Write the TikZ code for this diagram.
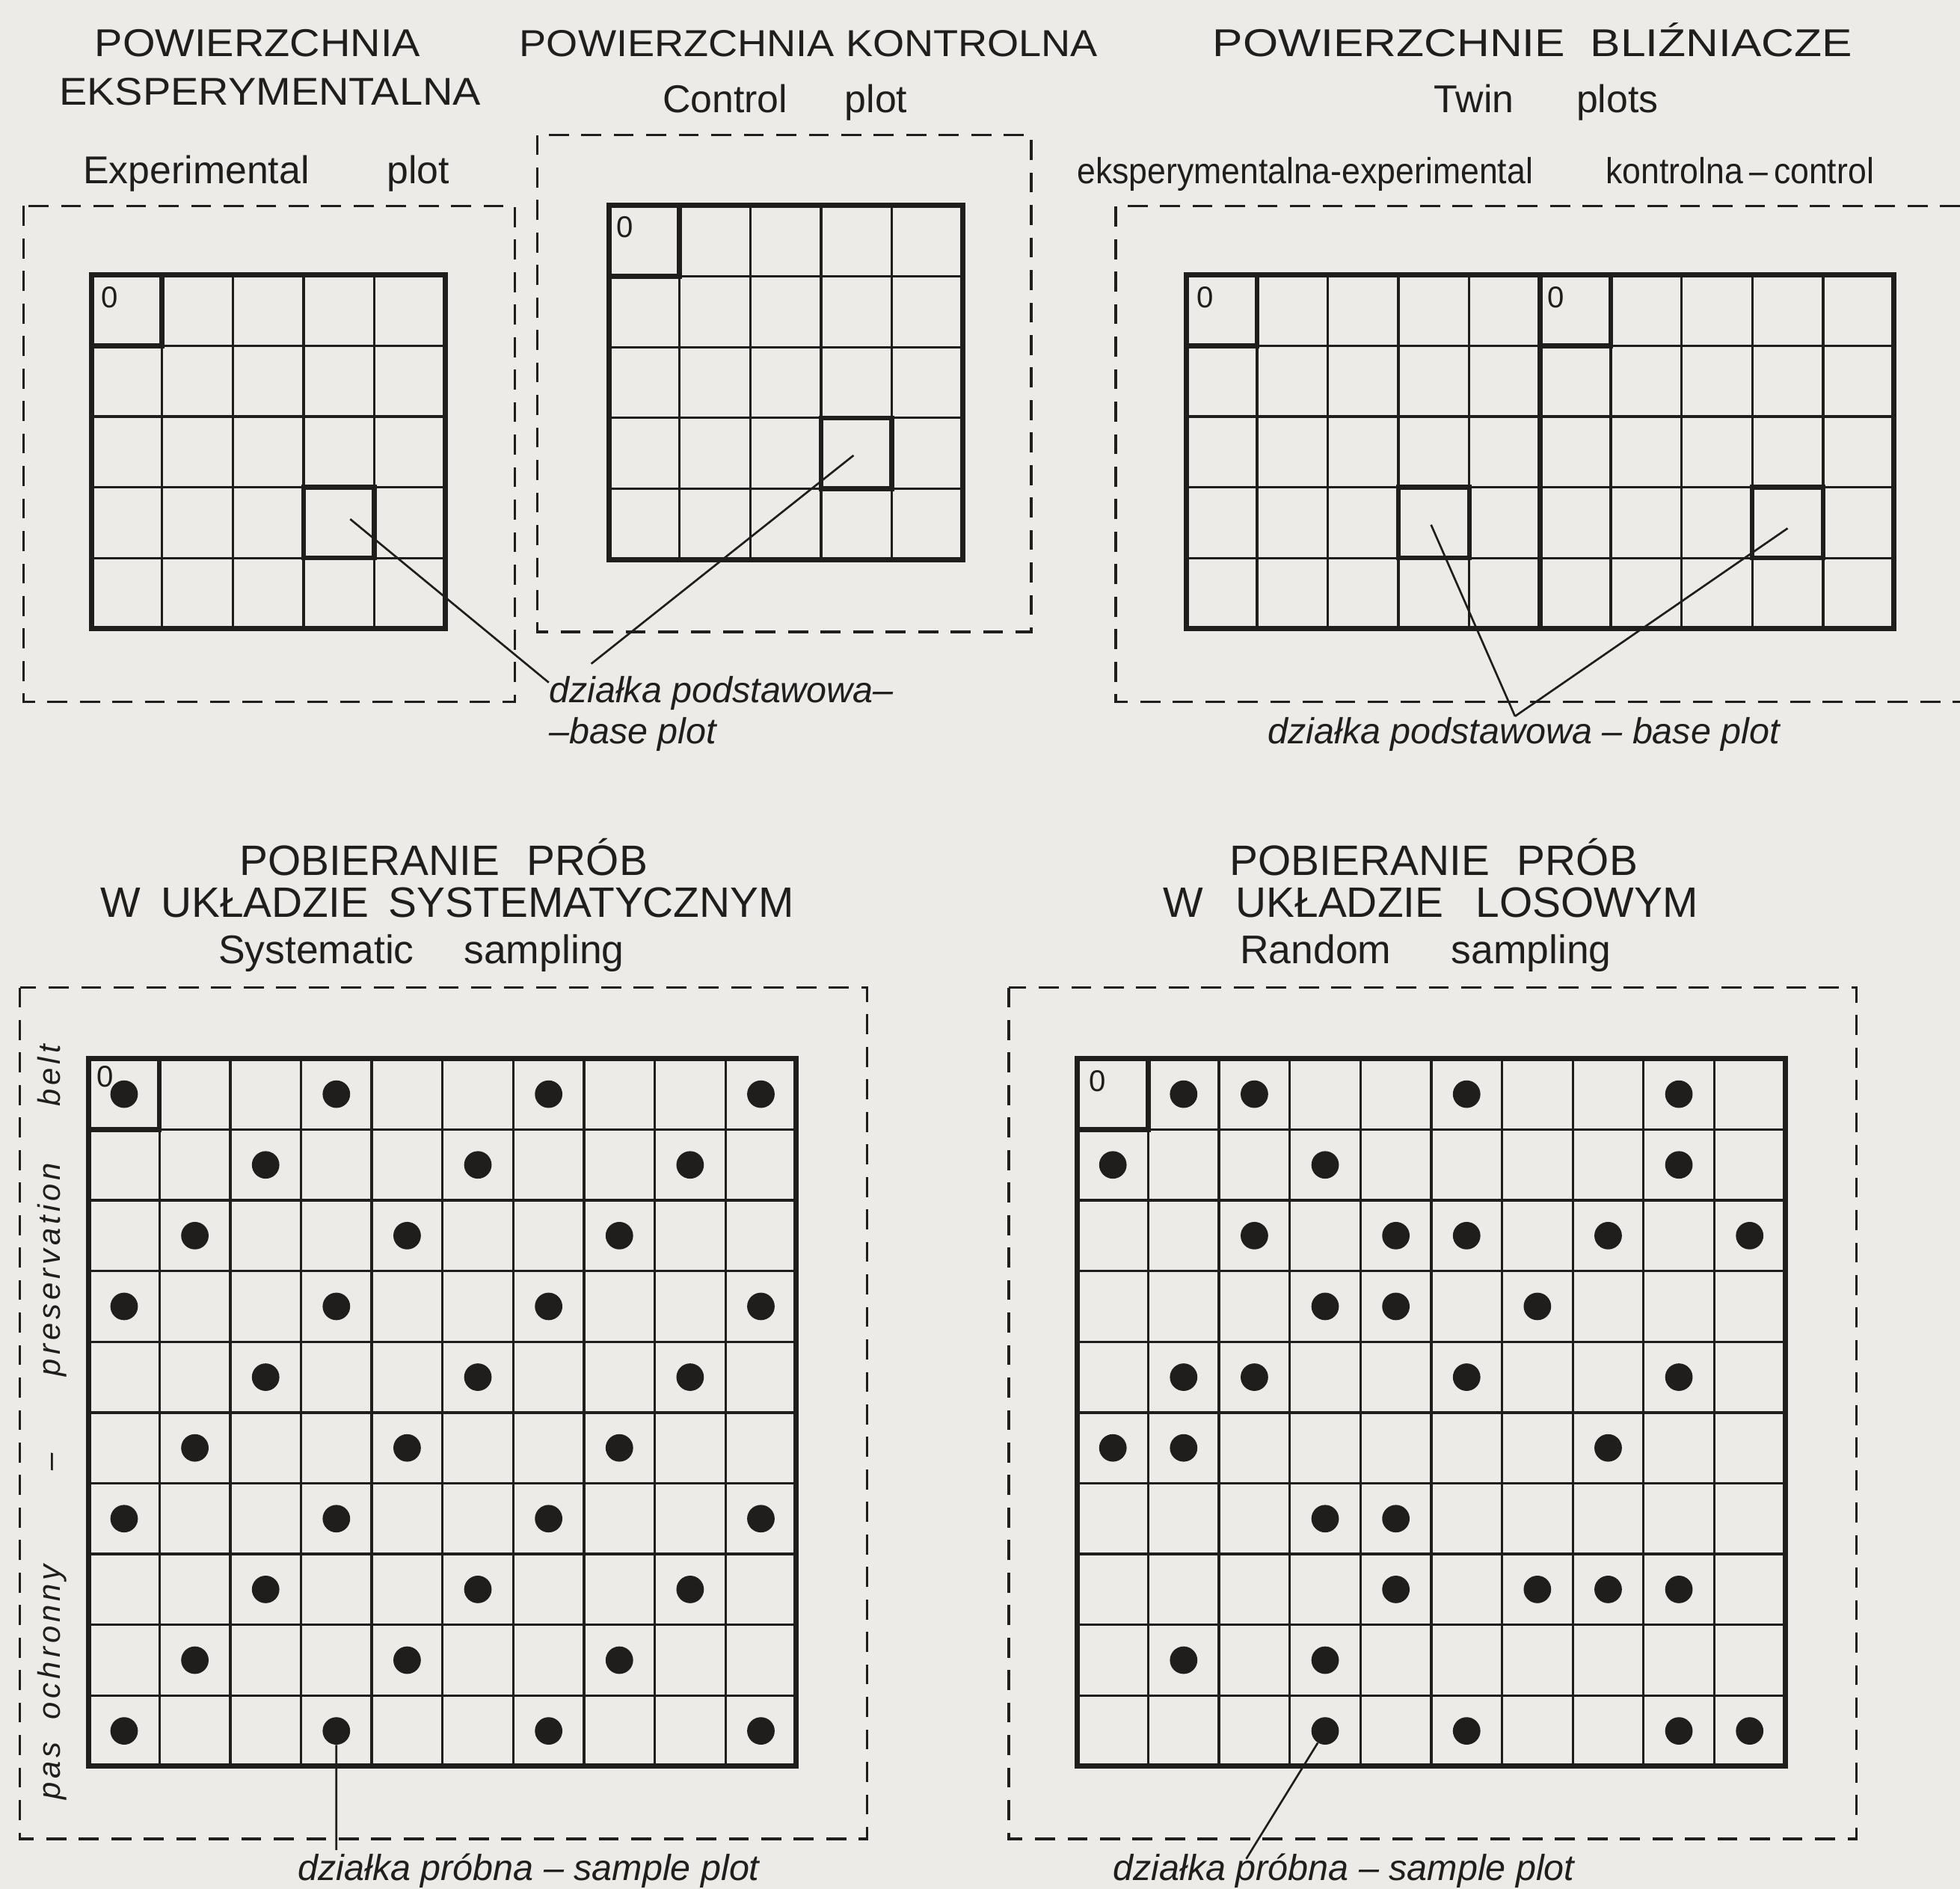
\documentclass[tikz,border=0pt]{standalone}
\usepackage{fontspec}
\setmainfont{Liberation Sans}
\newfontfamily\capsfont{Liberation Sans}[FakeStretch=1.08]
\newfontfamily\widecapsfont{Liberation Sans}[FakeStretch=1.17]
\newfontfamily\narrowfont{Liberation Sans}[FakeStretch=0.92]
\newfontfamily\beltfont{Liberation Sans}[LetterSpace=12]
\usetikzlibrary{calc}
\definecolor{paper}{RGB}{236,235,231}
\definecolor{ink}{RGB}{32,29,29}
\newcommand{\cellsz}{56.6}

\begin{document}
\begin{tikzpicture}[x=1pt,y=-1pt,
    cellline/.style={ink,line width=2pt},
    boldcell/.style={ink,line width=3.8pt},
    frame/.style={ink,line width=4.2pt},
    beltline/.style={ink,line width=2pt,dash pattern=on 16pt off 10pt},
    lead/.style={ink,line width=1.6pt},
    dot/.style={circle,fill=ink,minimum size=22pt,inner sep=0pt},
    zero/.style={ink,inner sep=0pt,font=\fontsize{24}{28}\selectfont},
    ttl/.style={ink,inner sep=0pt,anchor=base,font=\capsfont\fontsize{31}{37}\selectfont},
    sub/.style={ink,inner sep=0pt,anchor=base,font=\fontsize{31}{37}\selectfont},
    big/.style={ink,inner sep=0pt,anchor=base,font=\fontsize{34}{40}\selectfont},
    note/.style={ink,inner sep=0pt,font=\itshape\fontsize{29}{35}\selectfont},
    beltlbl/.style={ink,inner sep=0pt,rotate=90,anchor=base west,
                    font=\beltfont\itshape\fontsize{25}{30}\selectfont}]

    \path[fill=paper,use as bounding box] (0,0) rectangle (1568,1511);

    % titles, top row
    \node[ttl] (exptitle) at (206,45) {POWIERZCHNIA};
    \node[ttl] (exptitleb) at (216,84) {EKSPERYMENTALNA};
    \node[sub] (expsub) at (213,147) {Experimental\hspace{62pt}plot};
    \node[ttl,font=\capsfont\fontsize{30}{36}\selectfont] (ctltitle) at (647,45) {POWIERZCHNIA KONTROLNA};
    \node[sub] (ctlsub) at (628,90) {Control\hspace{46pt}plot};
    \node[ttl,font=\widecapsfont\fontsize{31}{37}\selectfont] (twintitle) at (1226,45) {POWIERZCHNIE\hspace{20pt}BLIŹNIACZE};
    \node[sub] (twinsub) at (1237,90) {Twin\hspace{50pt}plots};
    \node[sub,font=\narrowfont\fontsize{29}{35}\selectfont] (twinexp) at (1044,147) {eksperymentalna-experimental};
    \node[sub,font=\narrowfont\fontsize{29}{35}\selectfont] (twinctl) at (1392,147) {kontrolna\,–\,control};

    % experimental plot
    \draw[beltline] (18.7,164.8) rectangle (412,561.6);
    \begin{scope}[shift={(73,220)}]
      \foreach \k in {1,...,4} {
        \draw[cellline] (\k*\cellsz,0) -- (\k*\cellsz,5*\cellsz);
        \draw[cellline] (0,\k*\cellsz) -- (5*\cellsz,\k*\cellsz);
      }
      \draw[boldcell] (0,\cellsz) -| (\cellsz,0);
      \draw[boldcell] (3*\cellsz,3*\cellsz) rectangle (4*\cellsz,4*\cellsz);
      \draw[frame] (0,0) rectangle (5*\cellsz,5*\cellsz);
      \node[zero] (expzero) at (15,18) {0};
      \coordinate (expbase) at (3.66*\cellsz,3.45*\cellsz);
    \end{scope}

    % control plot
    \draw[beltline] (430,108) rectangle (825,505.5);
    \begin{scope}[shift={(487,164.5)}]
      \foreach \k in {1,...,4} {
        \draw[cellline] (\k*\cellsz,0) -- (\k*\cellsz,5*\cellsz);
        \draw[cellline] (0,\k*\cellsz) -- (5*\cellsz,\k*\cellsz);
      }
      \draw[boldcell] (0,\cellsz) -| (\cellsz,0);
      \draw[boldcell] (3*\cellsz,3*\cellsz) rectangle (4*\cellsz,4*\cellsz);
      \draw[frame] (0,0) rectangle (5*\cellsz,5*\cellsz);
      \node[zero] (ctlzero) at (13,17) {0};
      \coordinate (ctlbase) at (3.46*\cellsz,3.53*\cellsz);
    \end{scope}

    \node[note,anchor=base west] (baselbl) at (439,562) {działka podstawowa–};
    \node[note,anchor=base west] (baselblb) at (439,595) {–base plot};
    \coordinate (expfoot) at (439,546);
    \coordinate (ctlfoot) at (473,531);
    \draw[lead] (expbase) -- (expfoot);
    \draw[lead] (ctlbase) -- (ctlfoot);

    % twin plots
    \draw[beltline] (1568,164.8) -- (892.5,164.8) -- (892.5,561.6) -- (1568,561.6);
    \begin{scope}[shift={(949,220)}]
      \foreach \k in {1,...,9}
        \draw[cellline] (\k*\cellsz,0) -- (\k*\cellsz,5*\cellsz);
      \foreach \k in {1,...,4}
        \draw[cellline] (0,\k*\cellsz) -- (10*\cellsz,\k*\cellsz);
      \draw[boldcell] (0,\cellsz) -| (\cellsz,0);
      \draw[boldcell] (5*\cellsz,\cellsz) -| (6*\cellsz,0);
      \draw[boldcell] (3*\cellsz,3*\cellsz) rectangle (4*\cellsz,4*\cellsz);
      \draw[boldcell] (8*\cellsz,3*\cellsz) rectangle (9*\cellsz,4*\cellsz);
      \draw[frame] (5*\cellsz,0) -- (5*\cellsz,5*\cellsz);
      \draw[frame] (0,0) rectangle (10*\cellsz,5*\cellsz);
      \node[zero] (twinzeroa) at (15,18) {0};
      \node[zero] (twinzerob) at (5*\cellsz+13,18) {0};
      \coordinate (twinbasea) at (3.46*\cellsz,3.53*\cellsz);
      \coordinate (twinbaseb) at (8.5*\cellsz,3.58*\cellsz);
    \end{scope}
    \node[note,anchor=base] (twinlbl) at (1219,595) {działka podstawowa – base plot};
    \coordinate (twinfoot) at (1212,573);
    \draw[lead] (twinbasea) -- (twinfoot);
    \draw[lead] (twinbaseb) -- (twinfoot);

    % titles, bottom row
    \node[big] (systitle) at (355,700) {POBIERANIE\hspace{22pt}PRÓB};
    \node[big] (systitleb) at (358,734) {W\hspace{16pt}UKŁADZIE\hspace{16pt}SYSTEMATYCZNYM};
    \node[sub,font=\fontsize{32}{38}\selectfont] (syssub) at (337,771) {Systematic\hspace{40pt}sampling};
    \node[big] (randtitle) at (1147,700) {POBIERANIE\hspace{22pt}PRÓB};
    \node[big] (randtitleb) at (1144.5,734) {W\hspace{26pt}UKŁADZIE\hspace{26pt}LOSOWYM};
    \node[sub,font=\fontsize{32}{38}\selectfont] (randsub) at (1140.5,771) {Random\hspace{48pt}sampling};

    % systematic sampling
    \draw[beltline] (16,790) rectangle (693.5,1471);
    \begin{scope}[shift={(71,847)}]
      \foreach \k in {1,...,9} {
        \draw[cellline] (\k*\cellsz,0) -- (\k*\cellsz,10*\cellsz);
        \draw[cellline] (0,\k*\cellsz) -- (10*\cellsz,\k*\cellsz);
      }
      \draw[boldcell] (0,\cellsz) -| (\cellsz,0);
      \draw[frame] (0,0) rectangle (10*\cellsz,10*\cellsz);
      \foreach \r in {1,...,10}
        \foreach \c in {1,...,10} {
          \pgfmathtruncatemacro{\m}{mod(\r+\c,3)}
          \ifnum\m=2
            \node[dot] (s-\r-\c) at ({(\c-0.5)*\cellsz},{(\r-0.5)*\cellsz}) {};
          \fi
        }
      \node[zero] (syszero) at (13,14) {0};
    \end{scope}
    \node[beltlbl] (belt) at (48,1440)
      {pas\hspace{18pt}ochronny\hspace{75pt}–\hspace{62pt}preservation\hspace{45pt}belt};
    \node[note,anchor=base] (syslbl) at (423,1504) {działka próbna – sample plot};
    \coordinate (sysfoot) at (269.1,1480);
    \draw[lead] (s-10-4) -- (sysfoot);

    % random sampling
    \draw[beltline] (807,790) rectangle (1485,1471);
    \begin{scope}[shift={(862,847)}]
      \foreach \k in {1,...,9} {
        \draw[cellline] (\k*\cellsz,0) -- (\k*\cellsz,10*\cellsz);
        \draw[cellline] (0,\k*\cellsz) -- (10*\cellsz,\k*\cellsz);
      }
      \draw[boldcell] (0,\cellsz) -| (\cellsz,0);
      \draw[frame] (0,0) rectangle (10*\cellsz,10*\cellsz);
      \foreach \r/\cl in {1/{2,3,6,9},2/{1,4,9},3/{3,5,6,8,10},4/{4,5,7},5/{2,3,6,9},
                          6/{1,2,8},7/{4,5},8/{5,7,8,9},9/{2,4},10/{4,6,9,10}}
        \foreach \c in \cl
          \node[dot] (r-\r-\c) at ({(\c-0.5)*\cellsz},{(\r-0.5)*\cellsz}) {};
      \node[zero] (randzero) at (16,18) {0};
    \end{scope}
    \node[note,anchor=base] (randlbl) at (1075,1504) {działka próbna – sample plot};
    \coordinate (randfoot) at (997,1487);
    \draw[lead] (r-10-4) -- (randfoot);
  \end{tikzpicture}
\end{document}
